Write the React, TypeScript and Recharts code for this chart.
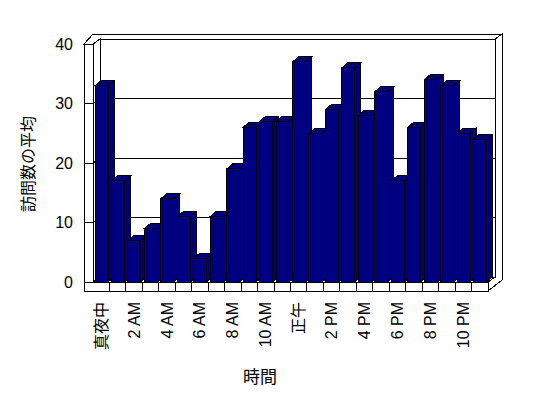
import React from 'react';
import { BarChart, Bar, XAxis, YAxis, CartesianGrid, ReferenceArea, Label } from 'recharts';

const hours = [
  '真夜中', '1 AM', '2 AM', '3 AM', '4 AM', '5 AM', '6 AM', '7 AM', '8 AM', '9 AM', '10 AM', '11 AM',
  '正午', '1 PM', '2 PM', '3 PM', '4 PM', '5 PM', '6 PM', '7 PM', '8 PM', '9 PM', '10 PM', '11 PM',
];
const visits = [33, 17, 7, 9, 14, 11, 4, 11, 19, 26, 27, 27, 37, 25, 29, 36, 28, 32, 17, 26, 34, 33, 25, 24];
const yTicks = [0, 10, 20, 30, 40];

const data = hours.map((h, i) => ({ hour: h, visits: visits[i] }));

const NAVY = '#000080';
const FONT = "'Liberation Sans', 'Noto Sans CJK JP', sans-serif";
const DX = 7;
const DY = -5;
const BDX = 6;
const BDY = -5;

const Shell = (p: any) => {
  const { x, y, width: w, height: h } = p;
  const X0 = x, X1 = x + w, Y0 = y, Y1 = y + h;
  const BX0 = X0 + DX, BX1 = X1 + DX, BY0 = Y0 + DY, BY1 = Y1 + DY;
  const LX = X0 - 9, FY = Y1 + 9, OY = BY0 - 5, OX = BX1 + 7;
  const n = hours.length;
  const st = { fill: 'none', stroke: '#000', strokeWidth: 1, shapeRendering: 'crispEdges' as const };
  const pts = (a: number[][]) => a.map((q) => q.join(',')).join(' ');
  const dividers = [];
  for (let i = 1; i < n; i++) {
    const xx = X0 + (i * w) / n;
    dividers.push(<line key={i} x1={xx} y1={Y1} x2={xx} y2={FY} stroke="#000" shapeRendering="crispEdges" />);
  }
  return (
    <g>
      <polygon {...st} points={pts([[LX, Y0], [X0, Y0], [X0, Y1], [X1, Y1], [X1, FY], [LX, FY]])} />
      <polygon {...st} points={pts([[LX, Y0], [X0, Y0], [BX0, BY0], [BX1, BY0], [OX, OY], [LX + 9, OY]])} />
      <polygon {...st} points={pts([[X0, Y0], [BX0, BY0], [BX0, BY1], [X0, Y1]])} />
      <rect {...st} x={BX0} y={BY0} width={w} height={h} />
      <polygon {...st} points={pts([[X0, Y1], [X1, Y1], [BX1, BY1], [BX0, BY1]])} />
      <polygon {...st} points={pts([[BX1, BY0], [OX, OY], [OX, FY - 11], [X1, FY], [X1, Y1], [BX1, BY1]])} />
      {dividers}
    </g>
  );
};

const GridLine = (p: any) => {
  const { x1, y1, x2 } = p;
  return (
    <polyline
      key={p.key}
      points={`${x1},${y1} ${x1 + DX},${y1 + DY} ${x2 + DX},${y1 + DY}`}
      fill="none"
      stroke="#000"
      strokeWidth={1}
      shapeRendering="crispEdges"
    />
  );
};

const Bar3D = (p: any) => {
  const { x, y, width: w, height: h } = p;
  if (x == null || h == null) return null;
  const st = { fill: NAVY, stroke: '#000', strokeWidth: 1, shapeRendering: 'crispEdges' as const };
  return (
    <g>
      <polygon {...st} points={`${x + w},${y} ${x + w + BDX},${y + BDY} ${x + w + BDX},${y + h + BDY} ${x + w},${y + h}`} />
      <polygon {...st} points={`${x},${y} ${x + w},${y} ${x + w + BDX},${y + BDY} ${x + BDX},${y + BDY}`} />
      <rect {...st} x={x} y={y} width={w} height={h} />
    </g>
  );
};

const XTick = (p: any) => (
  <g transform={`translate(${p.x},${p.y})`}>
    <text
      x={-12}
      y={0}
      transform="rotate(-90)"
      textAnchor="end"
      dominantBaseline="central"
      fontSize={16}
      fontFamily={FONT}
      fill="#000"
    >
      {p.payload.value}
    </text>
  </g>
);

export default function App() {
  return (
    <div style={{ position: 'absolute', left: 0, top: 0, width: 548, height: 398, background: '#fff' }}>
      <BarChart
        width={548}
        height={398}
        data={data}
        margin={{ top: 44, right: 60, bottom: 26, left: 33 }}
        barSize={13}
      >
        <ReferenceArea y1={0} y2={40} shape={Shell} ifOverflow="visible" zIndex={-50} />
        <CartesianGrid vertical={false} horizontal={GridLine} />
        <XAxis
          dataKey="hour"
          interval={1}
          height={90}
          axisLine={false}
          tickLine={false}
          tick={XTick}
        >
          <Label
            content={() => (
              <text x={260} y={377} textAnchor="middle" dominantBaseline="central" fontSize={17} fontFamily={FONT} fill="#000">
                時間
              </text>
            )}
          />
        </XAxis>
        <YAxis
          width={60}
          domain={[0, 40]}
          ticks={yTicks}
          axisLine={false}
          tickLine={{ stroke: '#000', shapeRendering: 'crispEdges' }}
          tickSize={9}
          tickMargin={11}
          tick={{ fill: '#000', fontSize: 16, fontFamily: FONT }}
        >
          <Label
            content={() => (
              <text
                transform="translate(28,164) rotate(-90)"
                textAnchor="middle"
                dominantBaseline="central"
                fontSize={16}
                fontFamily={FONT}
                fill="#000"
              >
                訪問数の平均
              </text>
            )}
          />
        </YAxis>
        <Bar dataKey="visits" shape={Bar3D} isAnimationActive={false} />
      </BarChart>
    </div>
  );
}
